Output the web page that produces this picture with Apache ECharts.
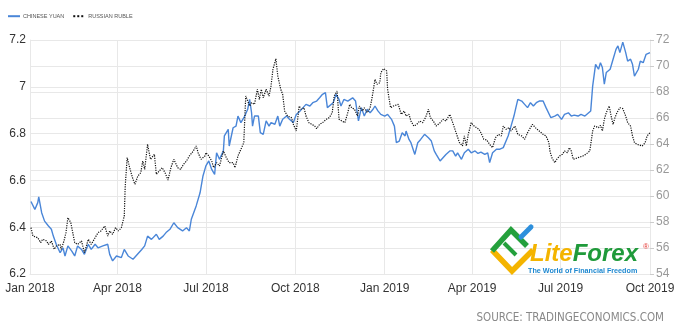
<!DOCTYPE html>
<html>
<head>
<meta charset="utf-8">
<script src="https://cdn.jsdelivr.net/npm/echarts@6/dist/echarts.min.js"></script>
<style>
  html, body { margin: 0; padding: 0; background: #fff; }
  #chart { width: 681px; height: 332px; }
</style>
</head>
<body>
<div id="chart"></div>
<script>
// Chinese yuan (left axis)
const yuanDates = [
  '2018-01-02','2018-01-06','2018-01-09','2018-01-10','2018-01-13','2018-01-16','2018-01-20','2018-01-23','2018-01-25','2018-01-28',
  '2018-02-01','2018-02-04','2018-02-06','2018-02-09','2018-02-13','2018-02-16','2018-02-19','2018-02-23','2018-02-26',
  '2018-03-02','2018-03-05','2018-03-09','2018-03-12','2018-03-17','2018-03-22','2018-03-24','2018-03-27','2018-03-31',
  '2018-04-05','2018-04-08','2018-04-12','2018-04-17','2018-04-20','2018-04-26','2018-04-29',
  '2018-05-02','2018-05-06','2018-05-11','2018-05-14','2018-05-18','2018-05-21','2018-05-25','2018-05-29',
  '2018-06-02','2018-06-07','2018-06-11','2018-06-14','2018-06-16','2018-06-21','2018-06-25','2018-06-28',
  '2018-07-01','2018-07-04','2018-07-07','2018-07-10','2018-07-12','2018-07-15','2018-07-19','2018-07-20','2018-07-24','2018-07-25','2018-07-29',
  '2018-08-01','2018-08-03','2018-08-06','2018-08-10','2018-08-13','2018-08-15','2018-08-17','2018-08-18','2018-08-20','2018-08-24','2018-08-26','2018-08-29',
  '2018-09-01','2018-09-04','2018-09-06','2018-09-10','2018-09-13','2018-09-15','2018-09-18','2018-09-22','2018-09-25','2018-09-29',
  '2018-10-02','2018-10-06','2018-10-09','2018-10-12','2018-10-16','2018-10-19','2018-10-23','2018-10-26','2018-10-29',
  '2018-11-01','2018-11-03','2018-11-05','2018-11-09','2018-11-12','2018-11-15','2018-11-17','2018-11-20','2018-11-24','2018-11-29',
  '2018-12-02','2018-12-05','2018-12-08','2018-12-11','2018-12-14','2018-12-17','2018-12-20','2018-12-22','2018-12-25','2018-12-28',
  '2019-01-01','2019-01-04','2019-01-08','2019-01-11','2019-01-13','2019-01-16','2019-01-19','2019-01-22','2019-01-23','2019-01-26','2019-01-28',
  '2019-02-01','2019-02-04','2019-02-07','2019-02-11','2019-02-15','2019-02-18','2019-02-21','2019-02-23','2019-02-27',
  '2019-03-02','2019-03-05','2019-03-09','2019-03-12','2019-03-15','2019-03-17','2019-03-21','2019-03-24','2019-03-28','2019-03-31',
  '2019-04-04','2019-04-07','2019-04-10','2019-04-14','2019-04-17','2019-04-19','2019-04-22','2019-04-26','2019-04-29',
  '2019-05-03','2019-05-05','2019-05-08','2019-05-11','2019-05-14','2019-05-16','2019-05-18','2019-05-22','2019-05-25','2019-05-28','2019-05-31',
  '2019-06-03','2019-06-06','2019-06-09','2019-06-13','2019-06-16','2019-06-18','2019-06-21','2019-06-25','2019-06-28',
  '2019-07-02','2019-07-05','2019-07-09','2019-07-12','2019-07-15','2019-07-19','2019-07-22','2019-07-26','2019-07-29',
  '2019-08-01','2019-08-03','2019-08-06','2019-08-09','2019-08-11','2019-08-13','2019-08-15','2019-08-17','2019-08-21','2019-08-24','2019-08-27','2019-08-29','2019-08-31',
  '2019-09-03','2019-09-06','2019-09-08','2019-09-11','2019-09-13','2019-09-15','2019-09-19','2019-09-21','2019-09-24','2019-09-27','2019-10-01'
];
const yuanValues = [
  6.510, 6.476, 6.505, 6.530, 6.462, 6.426, 6.405, 6.391, 6.362, 6.327,
  6.291, 6.312, 6.277, 6.320, 6.298, 6.277, 6.320, 6.305, 6.284,
  6.327, 6.305, 6.327, 6.312, 6.320, 6.327, 6.284, 6.256, 6.277,
  6.270, 6.305, 6.277, 6.263, 6.277, 6.305, 6.320,
  6.362, 6.348, 6.370, 6.348, 6.362, 6.377, 6.391, 6.419,
  6.398, 6.384, 6.398, 6.384, 6.434, 6.491, 6.547, 6.619,
  6.662, 6.683, 6.647, 6.626, 6.718, 6.690, 6.726, 6.790, 6.818, 6.747, 6.825,
  6.832, 6.875, 6.847, 6.875, 6.904, 6.946, 6.889, 6.832, 6.875, 6.875, 6.804, 6.797,
  6.854, 6.832, 6.847, 6.840, 6.875, 6.832, 6.861, 6.875, 6.861, 6.847,
  6.882, 6.897, 6.911, 6.925, 6.918, 6.932, 6.939, 6.953, 6.968,
  6.975, 6.911, 6.904, 6.932, 6.968, 6.946, 6.918, 6.946, 6.939, 6.953,
  6.939, 6.854, 6.911, 6.875, 6.904, 6.889, 6.904, 6.918, 6.897, 6.882,
  6.875, 6.882, 6.861, 6.832, 6.761, 6.768, 6.804, 6.790, 6.811, 6.775, 6.761,
  6.711, 6.761, 6.775, 6.797, 6.782, 6.768, 6.726, 6.711, 6.683,
  6.697, 6.711, 6.726, 6.726, 6.704, 6.718, 6.690, 6.718, 6.733, 6.718,
  6.726, 6.715, 6.721, 6.711, 6.718, 6.676, 6.718, 6.733, 6.733,
  6.740, 6.733, 6.790, 6.832, 6.875, 6.911, 6.946, 6.939, 6.925, 6.911, 6.932,
  6.918, 6.932, 6.939, 6.939, 6.911, 6.918, 6.868, 6.875, 6.882,
  6.861, 6.882, 6.889, 6.875, 6.879, 6.875, 6.882, 6.875, 6.886,
  6.897, 7.003, 7.096, 7.075, 7.103, 7.082, 7.011, 7.061, 7.075, 7.118, 7.160, 7.175, 7.146,
  7.191, 7.146, 7.110, 7.118, 7.096, 7.046, 7.075, 7.110, 7.103, 7.139, 7.146
];

// Russian ruble (right axis)
const rubleDates = [
  '2018-01-02','2018-01-04','2018-01-06','2018-01-09','2018-01-12','2018-01-14','2018-01-18','2018-01-20','2018-01-23','2018-01-26','2018-01-28',
  '2018-02-01','2018-02-02','2018-02-05','2018-02-07','2018-02-09','2018-02-12','2018-02-14','2018-02-16','2018-02-19','2018-02-23','2018-02-26',
  '2018-03-02','2018-03-05','2018-03-09','2018-03-12','2018-03-15','2018-03-19','2018-03-22','2018-03-24','2018-03-27','2018-03-30',
  '2018-04-02','2018-04-05','2018-04-08','2018-04-09','2018-04-11','2018-04-14','2018-04-17','2018-04-19','2018-04-22','2018-04-25','2018-04-27','2018-04-29',
  '2018-05-02','2018-05-05','2018-05-09','2018-05-11','2018-05-14','2018-05-17','2018-05-20','2018-05-23','2018-05-26','2018-05-29',
  '2018-06-02','2018-06-05','2018-06-08','2018-06-11','2018-06-14','2018-06-18','2018-06-21','2018-06-23','2018-06-26','2018-06-30',
  '2018-07-01','2018-07-04','2018-07-07','2018-07-09','2018-07-12','2018-07-15','2018-07-19','2018-07-22','2018-07-25','2018-07-29','2018-07-31',
  '2018-08-03','2018-08-06','2018-08-09','2018-08-11','2018-08-13','2018-08-15','2018-08-17','2018-08-20','2018-08-23','2018-08-25','2018-08-27','2018-08-29',
  '2018-09-01','2018-09-04','2018-09-06','2018-09-08','2018-09-11','2018-09-13','2018-09-16','2018-09-18','2018-09-20','2018-09-23','2018-09-27','2018-09-29',
  '2018-10-02','2018-10-05','2018-10-07','2018-10-10','2018-10-12','2018-10-15','2018-10-17','2018-10-21','2018-10-23','2018-10-26','2018-10-29',
  '2018-11-02','2018-11-05','2018-11-08','2018-11-10','2018-11-13','2018-11-15','2018-11-18','2018-11-21','2018-11-24','2018-11-26','2018-11-28',
  '2018-12-01','2018-12-04','2018-12-06','2018-12-09','2018-12-11','2018-12-14','2018-12-17','2018-12-19','2018-12-22','2018-12-24','2018-12-27','2018-12-28','2018-12-31',
  '2019-01-03','2019-01-04','2019-01-07','2019-01-10','2019-01-12','2019-01-15','2019-01-18','2019-01-21','2019-01-23','2019-01-26','2019-01-28','2019-01-31',
  '2019-02-03','2019-02-06','2019-02-09','2019-02-12','2019-02-15','2019-02-17','2019-02-20','2019-02-23','2019-02-27',
  '2019-03-02','2019-03-05','2019-03-09','2019-03-12','2019-03-16','2019-03-19','2019-03-22','2019-03-24','2019-03-26','2019-03-28','2019-03-31',
  '2019-04-03','2019-04-05','2019-04-08','2019-04-10','2019-04-13','2019-04-16','2019-04-19','2019-04-22','2019-04-25','2019-04-28',
  '2019-05-01','2019-05-03','2019-05-06','2019-05-09','2019-05-11','2019-05-15','2019-05-18','2019-05-22','2019-05-25','2019-05-28','2019-05-31',
  '2019-06-02','2019-06-05','2019-06-09','2019-06-13','2019-06-16','2019-06-19','2019-06-20','2019-06-22','2019-06-25','2019-06-27','2019-06-30',
  '2019-07-03','2019-07-05','2019-07-08','2019-07-10','2019-07-12','2019-07-14','2019-07-16','2019-07-19','2019-07-21','2019-07-24','2019-07-27','2019-07-31',
  '2019-08-02','2019-08-03','2019-08-05','2019-08-09','2019-08-11','2019-08-13','2019-08-15','2019-08-17','2019-08-20','2019-08-22','2019-08-24','2019-08-26','2019-08-28','2019-08-31',
  '2019-09-03','2019-09-06','2019-09-08','2019-09-11','2019-09-13','2019-09-15','2019-09-18','2019-09-20','2019-09-23','2019-09-26','2019-09-28','2019-10-01'
];
const rubleValues = [
  57.56, 56.92, 57.05, 56.79, 56.41, 56.67, 56.54, 56.28, 56.54, 55.90, 56.15,
  56.28, 55.90, 56.54, 57.18, 58.33, 57.95, 57.18, 56.41, 56.28, 56.54, 55.64,
  56.67, 56.28, 56.79, 57.18, 57.31, 57.69, 56.92, 57.31, 57.05, 57.56,
  57.31, 57.56, 58.46, 60.77, 62.95, 62.05, 61.28, 60.90, 61.54, 61.79, 62.69, 62.05,
  63.97, 62.82, 63.21, 61.67, 61.92, 62.18, 61.79, 61.23, 62.18, 62.82,
  62.18, 62.05, 62.44, 62.69, 63.08, 63.46, 63.85, 63.33, 62.82, 63.08,
  63.33, 63.08, 62.69, 62.18, 62.56, 62.31, 63.46, 62.95, 62.56, 62.56, 62.18,
  63.08, 63.59, 64.10, 67.69, 67.69, 66.92, 67.18, 67.05, 68.21, 67.44, 68.21, 67.56,
  68.21, 67.69, 68.46, 69.74, 70.56, 69.23, 68.21, 67.82, 66.54, 66.15, 66.03, 65.51,
  65.00, 66.92, 66.67, 66.79, 66.15, 65.64, 65.51, 65.38, 65.18, 65.51, 65.64,
  65.90, 66.03, 66.41, 67.69, 68.08, 65.90, 65.77, 65.64, 66.41, 67.05, 66.79,
  66.67, 66.15, 66.92, 66.54, 66.79, 66.41, 66.79, 67.56, 68.97, 68.59, 68.72, 69.49, 69.80,
  69.62, 68.21, 66.79, 66.92, 66.79, 67.05, 66.28, 66.54, 66.15, 66.28, 65.77, 65.38,
  65.51, 65.77, 65.64, 66.03, 66.67, 66.03, 65.77, 65.38, 65.64,
  65.90, 65.77, 66.28, 65.64, 64.74, 64.10, 63.85, 64.62, 63.85, 64.74, 65.64,
  65.38, 65.38, 65.13, 64.87, 64.36, 64.31, 63.97, 63.72, 64.49, 64.74,
  64.62, 65.38, 65.13, 65.26, 65.00, 65.38, 64.74, 64.62, 64.36, 64.87, 65.26,
  65.51, 65.26, 65.00, 64.74, 64.62, 64.10, 63.46, 62.95, 62.56, 62.82, 63.08,
  63.21, 63.46, 63.33, 63.72, 63.46, 62.82, 62.69, 62.95, 62.82, 63.08, 63.21, 63.46,
  63.59, 65.00, 65.38, 65.26, 65.44, 65.00, 65.90, 66.41, 66.92, 66.15, 65.51, 66.03, 66.41, 66.79,
  66.72, 66.15, 65.64, 65.38, 64.62, 64.10, 63.97, 64.10, 63.85, 64.10, 64.62, 64.87
];

const seriesNames = ['CHINESE YUAN', 'RUSSIAN RUBLE'];
const monthNames = ['Jan','Feb','Mar','Apr','May','Jun','Jul','Aug','Sep','Oct','Nov','Dec'];

const zip = (dates, values) => dates.map((d, i) => [d, values[i]]);

const gridColor = '#e8e8e8';
const chart = echarts.init(document.getElementById('chart'), null, { renderer: 'canvas' });

chart.setOption({
  animation: false,
  backgroundColor: '#fff',
  textStyle: { fontFamily: 'Liberation Sans, Arial, sans-serif' },
  legend: {
    left: 2,
    top: 8,
    itemWidth: 12,
    itemHeight: 8,
    itemGap: 8,
    itemStyle: { opacity: 0 },
    textStyle: { fontSize: 5.5, color: '#555', padding: [0, 0, 0, -2] },
    data: seriesNames
  },
  grid: { left: 30, right: 31, top: 40, bottom: 58 },
  xAxis: {
    type: 'time',
    min: '2018-01-01',
    max: '2019-10-01',
    splitNumber: 7,
    axisLine: { lineStyle: { color: gridColor } },
    axisTick: { show: false },
    axisLabel: {
      color: '#333',
      fontSize: 12,
      margin: 9,
      showMinLabel: true,
      showMaxLabel: true,
      formatter: function (val) {
        const d = new Date(val);
        return monthNames[d.getMonth()] + ' ' + d.getFullYear();
      }
    },
    splitLine: { show: true, lineStyle: { color: gridColor } }
  },
  yAxis: [
    {
      type: 'value',
      min: 6.2,
      max: 7.2,
      interval: 0.2,
      position: 'left',
      axisLine: { show: true, lineStyle: { color: gridColor } },
      axisTick: { show: false },
      axisLabel: { color: '#333', fontSize: 12, margin: 4 },
      splitLine: { lineStyle: { color: gridColor } }
    },
    {
      type: 'value',
      min: 54,
      max: 72,
      interval: 2,
      position: 'right',
      axisLine: { show: true, lineStyle: { color: gridColor } },
      axisTick: { show: true, length: 4, lineStyle: { color: '#ccc' } },
      axisLabel: { color: '#999', fontSize: 12, margin: 6 },
      splitLine: { lineStyle: { color: gridColor } }
    }
  ],
  series: [
    {
      name: seriesNames[0],
      type: 'line',
      yAxisIndex: 0,
      showSymbol: false,
      symbol: 'none',
      data: zip(yuanDates, yuanValues),
      lineStyle: { color: '#4a86d8', width: 1.4 },
      itemStyle: { color: '#4a86d8' },
      z: 3
    },
    {
      name: seriesNames[1],
      type: 'line',
      yAxisIndex: 1,
      showSymbol: false,
      symbol: 'none',
      data: zip(rubleDates, rubleValues),
      lineStyle: { color: '#111', width: 1.2, type: 'dotted' },
      itemStyle: { color: '#111' },
      z: 4
    }
  ],
  graphic: [
    // LiteForex watermark
    {
      type: 'polyline', z: 10,
      shape: { points: [[492, 250], [512, 271], [533, 250]] },
      style: { stroke: '#f4b400', lineWidth: 5.5, fill: null }
    },
    {
      type: 'polyline', z: 10,
      shape: { points: [[492, 251], [511, 230], [527, 246]] },
      style: { stroke: '#24a03c', lineWidth: 5.5, fill: null }
    },
    {
      type: 'polyline', z: 10,
      shape: { points: [[504, 243], [516, 255]] },
      style: { stroke: '#24a03c', lineWidth: 4, fill: null }
    },
    {
      type: 'line', z: 10,
      shape: { x1: 521, y1: 237, x2: 531, y2: 227 },
      style: { stroke: '#2d8fdc', lineWidth: 5, lineCap: 'round' }
    },
    {
      type: 'text', z: 10, left: 530, top: 242,
      style: {
        text: '{a|Lite}{b|Forex}',
        rich: {
          a: { fill: '#f4b400', fontSize: 24, fontWeight: 'bold', fontStyle: 'italic', fontFamily: 'Liberation Sans' },
          b: { fill: '#1f9a3a', fontSize: 24, fontWeight: 'bold', fontStyle: 'italic', fontFamily: 'Liberation Sans' }
        }
      }
    },
    {
      type: 'text', z: 10, left: 643, top: 243,
      style: { text: '®', fill: '#e53935', fontSize: 8, fontFamily: 'Liberation Sans' }
    },
    {
      type: 'text', z: 10, left: 528, top: 268,
      style: { text: 'The World of Financial Freedom', fill: '#1e88d0', fontSize: 7.2, fontWeight: 'bold', fontFamily: 'Liberation Sans' }
    },
    {
      type: 'text', right: 17, top: 312,
      style: {
        text: 'SOURCE: TRADINGECONOMICS.COM',
        fill: '#888',
        fontSize: 11.5,
        fontFamily: 'DejaVu Sans Condensed, Liberation Sans Narrow, Liberation Sans, sans-serif'
      }
    }
  ]
});
</script>
</body>
</html>
